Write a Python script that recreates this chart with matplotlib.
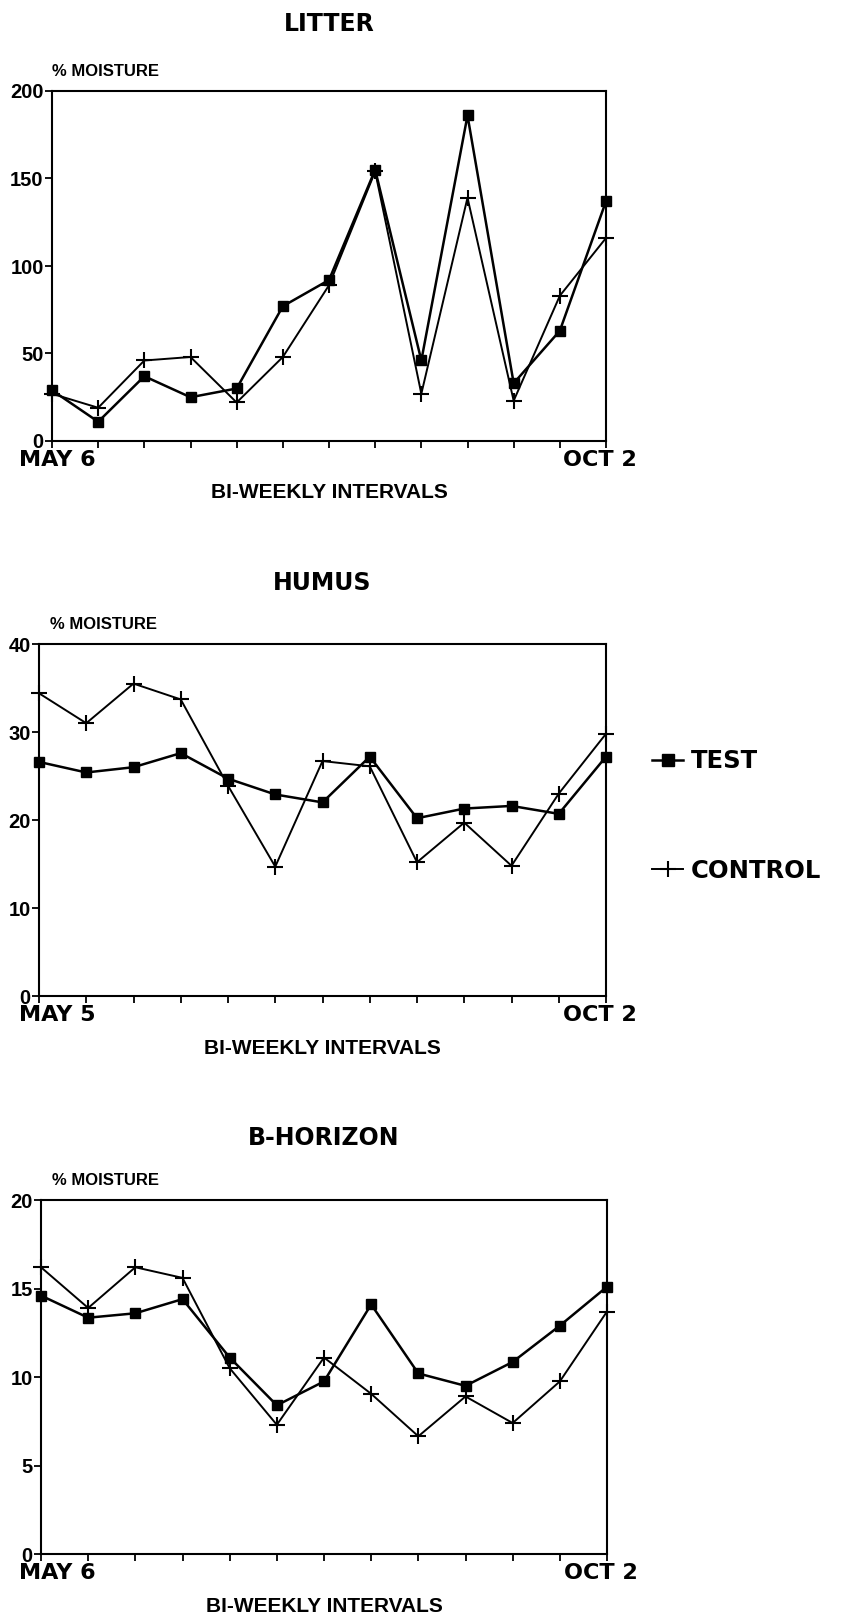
import numpy as np
import matplotlib.pyplot as plt
from matplotlib.lines import Line2D
from matplotlib.transforms import ScaledTranslation

# bi-weekly sampling points, 13 intervals
x = np.arange(13)

litter_test = [29, 11, 37, 25, 30, 77, 92, 155, 46, 186, 33, 63, 137]
litter_control = [27, 19, 46, 48, 22, 48, 89, 154, 27, 139, 23, 83, 116]

humus_test = [26.6, 25.4, 26.0, 27.6, 24.7, 22.9, 22.0, 27.2, 20.2, 21.3, 21.6, 20.7, 27.2]
humus_control = [34.4, 31.0, 35.5, 33.7, 23.9, 14.7, 26.7, 26.1, 15.2, 19.7, 14.8, 23.0, 29.8]

bhor_test = [14.6, 13.35, 13.6, 14.4, 11.1, 8.4, 9.75, 14.1, 10.2, 9.5, 10.85, 12.9, 15.1]
bhor_control = [16.2, 13.9, 16.2, 15.6, 10.5, 7.3, 11.1, 9.05, 6.65, 8.9, 7.4, 9.75, 13.7]

titles = ['LITTER', 'HUMUS', 'B-HORIZON']
first_labels = ['MAY 6', 'MAY 5', 'MAY 6']
ymax = [200, 40, 20]
yticks = [[0, 50, 100, 150, 200], [0, 10, 20, 30, 40], [0, 5, 10, 15, 20]]
tests = [litter_test, humus_test, bhor_test]
controls = [litter_control, humus_control, bhor_control]

W, H = 841, 1619
fig = plt.figure(figsize=(W / 100, H / 100), dpi=100)

# axes boxes in pixels: left, right, top, bottom
boxes = [(52, 606, 91, 441), (39, 606, 644, 996), (41, 607, 1200, 1554)]
title_gap = [67, 61, 62]
mois_x = [52, 50, 52]

bold = dict(family='Liberation Sans', weight='bold')
tickfont = dict(family='DejaVu Sans', weight='bold', fontsize=16)

for i in range(3):
    l, r, t, b = boxes[i]
    ax = fig.add_axes([l / W, 1 - b / H, (r - l) / W, (b - t) / H])
    ax.plot(x, controls[i], color='black', lw=1.4, marker='+', ms=12, mew=1.5,
            clip_on=False, zorder=3)
    ax.plot(x, tests[i], color='black', lw=1.8, marker='s', ms=7.5,
            clip_on=False, zorder=4)
    ax.set_xlim(0, 12)
    ax.set_ylim(0, ymax[i])
    ax.set_xticks(x)
    ax.set_xticklabels([])
    # end labels of the time axis, first one sits a little right-shifted
    tr = ax.get_xaxis_transform()
    ax.text(0, 0, first_labels[i], ha='left', va='top', **tickfont,
            transform=tr + ScaledTranslation((19 - l) / 100, -9 / 100, fig.dpi_scale_trans))
    ax.text(12, 0, 'OCT 2', ha='center', va='top', **tickfont,
            transform=tr + ScaledTranslation(-6 / 100, -9 / 100, fig.dpi_scale_trans))
    ax.set_yticks(yticks[i])
    ax.set_yticklabels([str(v) for v in yticks[i]], fontsize=14.5, **bold)
    ax.tick_params(length=5, width=1.3, pad=1)
    for s in ax.spines.values():
        s.set_linewidth(1.5)
    cx = (l + r) / 2 / W
    fig.text(cx, 1 - (t - title_gap[i]) / H, titles[i], ha='center', va='center',
             fontsize=17, family='DejaVu Sans', weight='bold')
    fig.text(mois_x[i] / W, 1 - (t - 20) / H, '% MOISTURE', ha='left', va='center',
             fontsize=12, **bold)
    fig.text(cx, 1 - (b + 52) / H, 'BI-WEEKLY INTERVALS', ha='center', va='center',
             fontsize=15, **bold)

handles = [Line2D([], [], color='black', marker='s', ms=8, lw=1.8),
           Line2D([], [], color='black', marker='+', ms=12, mew=1.5, lw=1.4)]
fig.legend(handles, ['TEST', 'CONTROL'], loc='center left',
           bbox_to_anchor=(630 / W, 1 - 816 / H), frameon=False,
           prop=dict(family='DejaVu Sans', weight='bold', size=17.5),
           handlelength=1.3, handletextpad=0.3, labelspacing=3.5)

fig.savefig('out.png', dpi=100, facecolor='white')
